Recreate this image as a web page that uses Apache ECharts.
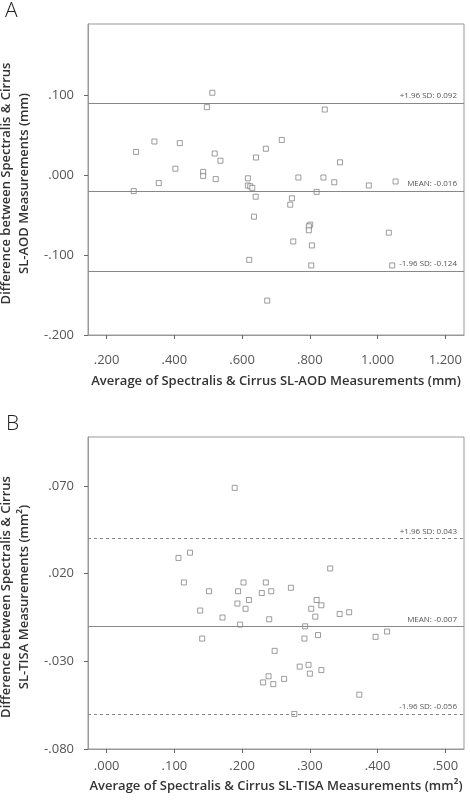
<!DOCTYPE html>
<html>
<head>
<meta charset="utf-8">
<script src="https://cdn.jsdelivr.net/npm/echarts@6/dist/echarts.min.js"></script>
<style>html,body{margin:0;padding:0;background:#fff}#c{width:470px;height:800px}</style>
</head>
<body>
<div id="c"></div>
<script>
// Panel A: SL-AOD (mm)
const aodAvg  = [0.512,0.496,0.844,0.341,0.416,0.717,0.670,0.287,0.519,0.536,0.641,0.889,0.403,0.485,0.485,0.522,0.617,0.766,0.840,0.872,0.974,1.053,0.354,0.280,0.617,0.624,0.630,0.820,0.640,0.747,0.742,0.635,0.801,0.797,0.797,1.033,0.751,0.806,0.621,0.804,1.043,0.674];
const aodDiff = [0.103,0.085,0.082,0.042,0.040,0.044,0.033,0.029,0.027,0.018,0.022,0.016,0.008,0.004,-0.001,-0.005,-0.004,-0.003,-0.003,-0.009,-0.013,-0.008,-0.010,-0.020,-0.013,-0.014,-0.016,-0.021,-0.027,-0.029,-0.037,-0.052,-0.062,-0.064,-0.069,-0.072,-0.083,-0.088,-0.106,-0.113,-0.113,-0.157];
const aodLineValues = [0.092, -0.016, -0.124];
const aodLineLabels = ['+1.96 SD: 0.092', 'MEAN: -0.016', '-1.96 SD: -0.124'];
const aodXTicks = [0.2,0.4,0.6,0.8,1.0,1.2];
const aodYTicks = [-0.2,-0.1,0.0,0.1];

// Panel B: SL-TISA (mm²)
const tisaAvg  = [0.189,0.106,0.123,0.114,0.151,0.138,0.141,0.171,0.194,0.202,0.193,0.210,0.205,0.197,0.229,0.235,0.243,0.272,0.240,0.248,0.231,0.239,0.246,0.262,0.285,0.298,0.300,0.317,0.293,0.292,0.312,0.308,0.302,0.310,0.317,0.330,0.344,0.358,0.397,0.414,0.373,0.277];
const tisaDiff = [0.069,0.029,0.032,0.015,0.010,-0.001,-0.017,-0.005,0.010,0.015,0.003,0.005,0.000,-0.009,0.009,0.015,0.010,0.012,-0.006,-0.024,-0.042,-0.0385,-0.043,-0.040,-0.033,-0.032,-0.037,-0.035,-0.010,-0.017,-0.015,-0.0045,0.000,0.005,0.002,0.023,-0.003,-0.002,-0.016,-0.013,-0.049,-0.060];
const tisaLineValues = [0.043, -0.007, -0.056];
const tisaLineLabels = ['+1.96 SD: 0.043', 'MEAN: -0.007', '-1.96 SD: -0.056'];
const tisaXTicks = [0.0,0.1,0.2,0.3,0.4,0.5];
const tisaYTicks = [-0.08,-0.03,0.02,0.07];

const FONT = '"Open Sans", "Liberation Sans", sans-serif';
function fmt(v){
  let s = Math.abs(v) < 1e-9 ? '0.000' : v.toFixed(3);
  return s.replace(/^(-?)0\./, '$1.');
}
function pairs(xs, ys){ return xs.map((x,i)=>[x, ys[i]]); }

function xAxisCfg(idx, min, max, ticks, name, labelMargin, nameGap){
  return {
    type:'value', gridIndex:idx, min:min, max:max,
    name:name, nameLocation:'middle', nameGap:nameGap,
    nameTextStyle:{fontFamily:FONT, fontSize:13, fontWeight:600, color:'#333'},
    axisLine:{show:true, onZero:false, lineStyle:{color:'#999', width:1}},
    axisTick:{show:true, length:4, lineStyle:{color:'#666'}, customValues:ticks},
    axisLabel:{fontFamily:FONT, fontSize:13, color:'#555', margin:labelMargin, customValues:ticks, formatter:fmt},
    splitLine:{show:false}
  };
}
function yAxisCfg(idx, min, max, ticks, name){
  return {
    type:'value', gridIndex:idx, min:min, max:max,
    name:name, nameLocation:'middle', nameGap:45, nameRotate:90,
    nameTextStyle:{fontFamily:FONT, fontSize:13, fontWeight:600, color:'#333', lineHeight:18, align:'center', padding:[0,8,0,0]},
    axisLine:{show:true, onZero:false, lineStyle:{color:'#999', width:1}},
    axisTick:{show:true, length:4, lineStyle:{color:'#666'}, customValues:ticks},
    axisLabel:{fontFamily:FONT, fontSize:13, color:'#555', margin:14, customValues:ticks, formatter:fmt},
    splitLine:{show:false}
  };
}
function markLines(values, labels, dashed){
  return {
    silent:true, symbol:'none',
    data: values.map((v,i)=>({
      yAxis:v,
      lineStyle:{color:'#888', width:1, type:(dashed && i!==1) ? [3,3] : 'solid'},
      label:{show:true, position:'insideEndTop', formatter:labels[i], fontFamily:FONT, fontSize:8, color:'#555', distance:[7,3]}
    }))
  };
}

const chart = echarts.init(document.getElementById('c'), null, {renderer:'canvas'});
chart.setOption({
  backgroundColor:'#fff',
  animation:false,
  title:[
    {text:'A', left:0, top:-4, textStyle:{fontFamily:FONT, fontSize:21, fontWeight:300, color:'#222'}},
    {text:'B', left:1, top:409, textStyle:{fontFamily:FONT, fontSize:21, fontWeight:300, color:'#222'}}
  ],
  grid:[
    {left:88, right:6, top:24, height:311, show:true, borderColor:'#999', borderWidth:1, backgroundColor:'transparent', containLabel:false, outerBoundsMode:'none'},
    {left:88, right:6, top:437, height:312, show:true, borderColor:'#999', borderWidth:1, backgroundColor:'transparent', containLabel:false, outerBoundsMode:'none'}
  ],
  xAxis:[
    xAxisCfg(0, 0.145, 1.255, aodXTicks, 'Average of Spectralis & Cirrus SL-AOD Measurements (mm)', 19, 40),
    xAxisCfg(1, -0.0276, 0.5276, tisaXTicks, 'Average of Spectralis & Cirrus SL-TISA Measurements (mm²)', 11, 31)
  ],
  yAxis:[
    yAxisCfg(0, -0.2, 0.189, aodYTicks, 'Difference between Spectralis & Cirrus\nSL-AOD Measurements (mm)'),
    yAxisCfg(1, -0.08, 0.098, tisaYTicks, 'Difference between Spectralis & Cirrus\nSL-TISA Measurements (mm²)')
  ],
  series:[
    {type:'scatter', xAxisIndex:0, yAxisIndex:0, data:pairs(aodAvg, aodDiff), symbol:'rect', symbolSize:5,
     itemStyle:{color:'#fff', borderColor:'#777', borderWidth:0.9}, markLine:markLines(aodLineValues, aodLineLabels, false)},
    {type:'scatter', xAxisIndex:1, yAxisIndex:1, data:pairs(tisaAvg, tisaDiff), symbol:'rect', symbolSize:5,
     itemStyle:{color:'#fff', borderColor:'#777', borderWidth:0.9}, markLine:markLines(tisaLineValues, tisaLineLabels, true)}
  ]
});
</script>
</body>
</html>
